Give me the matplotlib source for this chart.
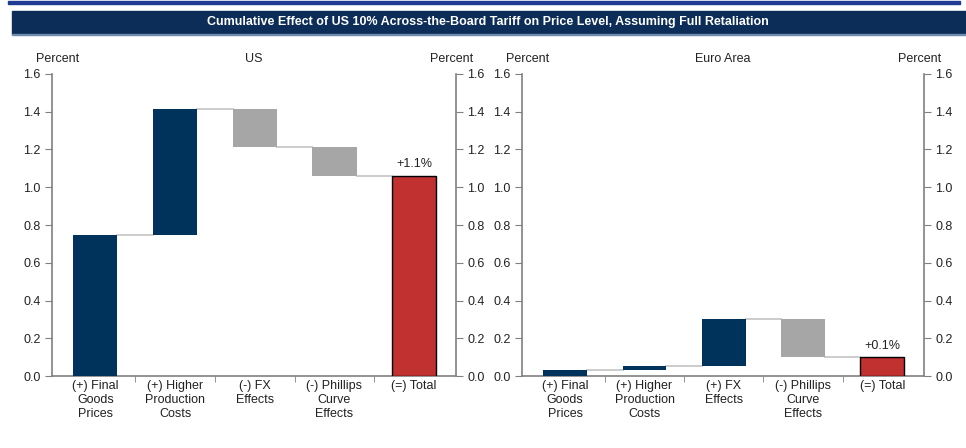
import matplotlib.pyplot as plt
from matplotlib.patches import Rectangle

plt.rcParams['font.family'] = ['Liberation Sans', 'DejaVu Sans']

# data
categories_us = ["(+) Final\nGoods\nPrices", "(+) Higher\nProduction\nCosts", "(-) FX\nEffects",
                 "(-) Phillips\nCurve\nEffects", "(=) Total"]
categories_ea = ["(+) Final\nGoods\nPrices", "(+) Higher\nProduction\nCosts", "(+) FX\nEffects",
                 "(-) Phillips\nCurve\nEffects", "(=) Total"]
steps_us = [0.745, 0.67, -0.20, -0.155]
steps_ea = [0.032, 0.022, 0.25, -0.205]
total_label_us = "+1.1%"
total_label_ea = "+0.1%"
yticks = [0.0, 0.2, 0.4, 0.6, 0.8, 1.0, 1.2, 1.4, 1.6]

NAVY = "#00335b"
GRAY = "#a6a6a6"
RED = "#c0312f"
SPINE = "#808080"
TXT = "#222222"

W, H = 966, 448
fig = plt.figure(figsize=(W / 100, H / 100), dpi=100)

# top rule and title banner
fig.patches.append(Rectangle((8 / W, 1 - 4 / H), 952 / W, 2.5 / H, transform=fig.transFigure,
                             color="#1f3a93", zorder=0))
fig.patches.append(Rectangle((12 / W, 1 - 34 / H), 954 / W, 23 / H, transform=fig.transFigure,
                             color="#0b2d57", zorder=0))
fig.patches.append(Rectangle((12 / W, 1 - 35 / H), 954 / W, 1.2 / H, transform=fig.transFigure,
                             color="#6f8bb0", zorder=0))
fig.text(488 / W, 1 - 22.5 / H, "Cumulative Effect of US 10% Across-the-Board Tariff on Price Level, Assuming Full Retaliation",
         ha="center", va="center", color="white", fontsize=9, fontweight="bold")


def waterfall(left_px, width_px, cats, steps, title, total_label):
    ax = fig.add_axes([left_px / W, (H - 376) / H, width_px / W, 302 / H])
    width = 0.553
    level = 0.0
    for i, s in enumerate(steps):
        base = level if s >= 0 else level + s
        color = NAVY if s >= 0 else GRAY
        ax.bar(i, abs(s), bottom=base, width=width, color=color, zorder=3)
        if i > 0:
            ax.plot([i - 1 + width / 2, i - width / 2], [level, level], color="#c8c8c8", lw=1.3, zorder=2)
        level += s
    n = len(steps)
    ax.plot([n - 1 + width / 2, n - width / 2], [level, level], color="#c8c8c8", lw=1.3, zorder=2)
    ax.bar(n, level, width=width, color=RED, edgecolor="black", lw=1.0, zorder=3)
    ax.text(n, level + 0.03, total_label, ha="center", va="bottom", fontsize=9, color=TXT)

    ax.set_xlim(-0.545, len(cats) - 0.475)
    ax.set_ylim(0, 1.6)
    ax.set_yticks(yticks)
    ax.set_yticklabels([f"{t:.1f}" for t in yticks])
    ax.set_xticks(range(len(cats)))
    ax.set_xticklabels(cats, fontsize=9, linespacing=1.2, color=TXT)
    ax.tick_params(axis="x", length=0, pad=3)
    ax.set_xticks([k + 0.5 for k in range(len(cats) - 1)], minor=True)
    ax.tick_params(axis="x", which="minor", length=4, color=SPINE, direction="out")
    ax.tick_params(axis="y", length=5, color=SPINE, labelsize=9, labelcolor=TXT, pad=3)
    for sp in ["top", "right"]:
        ax.spines[sp].set_visible(False)
    for sp in ["left", "bottom"]:
        ax.spines[sp].set_color(SPINE)
        ax.spines[sp].set_linewidth(1.2)

    ax2 = ax.twinx()
    ax2.set_ylim(0, 1.6)
    ax2.set_yticks(yticks)
    ax2.set_yticklabels([f"{t:.1f}" for t in yticks])
    ax2.tick_params(axis="y", length=5, color=SPINE, labelsize=9, labelcolor=TXT, pad=3)
    for sp in ["top", "left", "bottom"]:
        ax2.spines[sp].set_visible(False)
    ax2.spines["right"].set_color(SPINE)
    ax2.spines["right"].set_linewidth(1.2)

    ax.text(0.013, 1.03, "Percent", transform=ax.transAxes, ha="center", va="bottom", fontsize=9, color=TXT)
    ax.text(0.99, 1.03, "Percent", transform=ax.transAxes, ha="center", va="bottom", fontsize=9, color=TXT)
    ax.text(0.5, 1.03, title, transform=ax.transAxes, ha="center", va="bottom", fontsize=9, color=TXT)
    return ax


waterfall(52, 404, categories_us, steps_us, "US", total_label_us)
waterfall(522, 402, categories_ea, steps_ea, "Euro Area", total_label_ea)

fig.savefig("out.png", dpi=100)
